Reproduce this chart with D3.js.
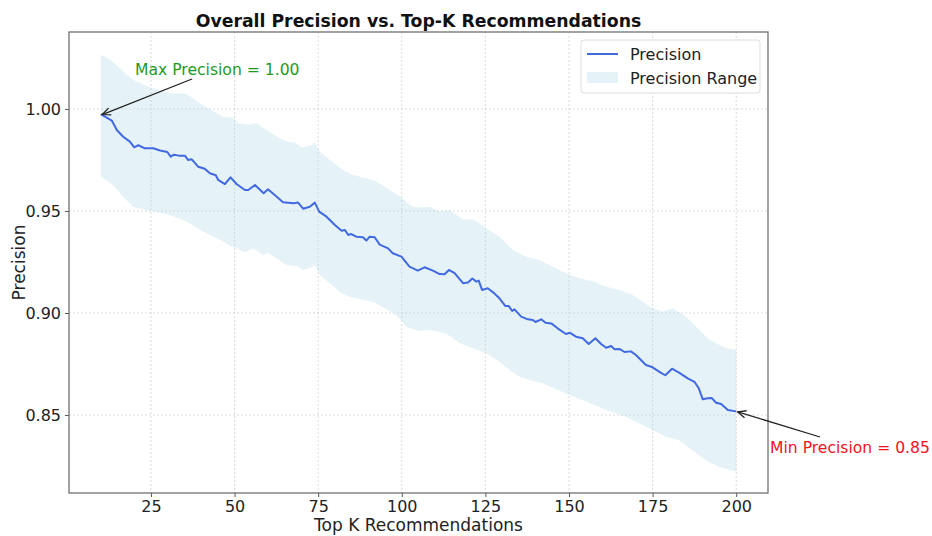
<!DOCTYPE html>
<html><head><meta charset="utf-8">
<script src="https://cdn.jsdelivr.net/npm/d3@7"></script>
<style>body{margin:0;background:#fff}svg{display:block}text{font-family:"DejaVu Sans",sans-serif}</style>
</head><body>
<svg id="c" width="932" height="536"></svg>
<script>
// ---- data ----
const lineK = [10,13.3,14.8,16.7,18.7,20.0,21.2,23.2,25.7,27.7,29.9,30.9,31.9,33.7,35.2,36.1,37.2,39.1,41.1,42.6,44.4,45.1,47.1,48.8,50.6,53.1,54.1,56.1,58.7,60.0,62.0,64.5,67.7,69.0,70.5,72.5,74.0,75.3,77.5,80.0,82.0,83.0,84.0,84.9,86.4,88.4,89.4,90.4,91.9,93.4,95.9,97.3,99.9,102.3,104.8,106.8,109.3,111.3,112.8,114.1,115.8,118.3,119.8,121.1,122.3,123.0,124.0,125.7,127.7,129.2,131.0,132.0,133.0,133.7,135.7,137.7,139.2,140.0,141.7,143.0,144.7,146.6,149.1,150.3,152.1,154.1,155.9,157.9,159.6,161.1,162.6,163.6,165.1,166.6,168.5,170.0,173.0,175.0,177.5,178.8,180.8,183.0,185.5,187.5,188.8,190.0,191.5,192.7,194.0,195.5,197.5,200];
const precision = [0.9975,0.9943,0.9897,0.9864,0.9840,0.9812,0.9822,0.9807,0.9807,0.9796,0.9789,0.9766,0.9776,0.9770,0.9770,0.9750,0.9753,0.9717,0.9707,0.9685,0.9675,0.9652,0.9632,0.9665,0.9632,0.9603,0.9603,0.9627,0.9587,0.9606,0.9578,0.9543,0.9538,0.9541,0.9511,0.9521,0.9541,0.9497,0.9472,0.9431,0.9403,0.9407,0.9382,0.9387,0.9374,0.9371,0.9355,0.9374,0.9371,0.9335,0.9317,0.9293,0.9276,0.9227,0.9208,0.9224,0.9208,0.9191,0.9190,0.9211,0.9195,0.9146,0.9149,0.9169,0.9154,0.9159,0.9113,0.9121,0.9096,0.9072,0.9034,0.9034,0.9010,0.9018,0.8982,0.8969,0.8966,0.8956,0.8969,0.8952,0.8949,0.8925,0.8897,0.8903,0.8884,0.8876,0.8848,0.8876,0.8848,0.8830,0.8838,0.8822,0.8824,0.8809,0.8812,0.8794,0.8745,0.8734,0.8707,0.8695,0.8727,0.8707,0.8680,0.8663,0.8631,0.8577,0.8582,0.8583,0.8560,0.8554,0.8525,0.8518];

const upperK = [10,13,16.7,19.7,24.2,26.7,30.7,35.7,39.6,43.6,46.6,49.6,51.1,54.6,56.6,59.5,63.5,65.5,68.0,70.0,72.5,74.0,75.5,78.5,82.4,85.4,89.4,92.4,96.4,99.4,103.4,106.3,108.3,111.3,114.3,118.3,121.3,123.3,125.2,129.2,133.2,137.2,141.2,145.1,149.1,153.1,157.1,161.1,165.1,169.1,174.1,178,181,185,189,192,197,200];
const upperVal = [1.0265,1.024,1.0183,1.0142,1.0109,1.0096,1.0077,1.0074,1.0028,0.9987,0.9962,0.9957,0.9930,0.9922,0.9930,0.9897,0.9856,0.9840,0.9835,0.9812,0.9819,0.9835,0.9791,0.9750,0.9701,0.9676,0.9660,0.9644,0.9603,0.9571,0.9518,0.9518,0.9521,0.9497,0.9503,0.9460,0.9458,0.9440,0.9415,0.9374,0.9309,0.9275,0.9260,0.9227,0.9195,0.9170,0.9156,0.9129,0.9113,0.9088,0.9031,0.9007,0.9023,0.8982,0.8917,0.8868,0.8827,0.8819];

const lowerK = [10,13.7,16.7,19.7,23.7,29.7,35.7,40.6,46.6,48.6,50.6,53.1,55.5,58.5,60.0,62.5,65.5,68.5,70.5,72.5,74.0,75.5,78.5,81.4,84.4,88.4,91.4,94.4,98.4,101.4,105.3,108.3,113.3,117.3,121.3,125.2,129.2,132.2,135.2,138.2,142.1,149.1,155.1,161.1,167,173,179,183,186.9,190.9,194.9,200];
const lowerVal = [0.9668,0.9627,0.9570,0.9521,0.9505,0.9485,0.9448,0.9399,0.9350,0.9328,0.9317,0.9296,0.9317,0.9284,0.9296,0.9268,0.9235,0.9230,0.9211,0.9219,0.9235,0.9186,0.9146,0.9104,0.9080,0.9064,0.9055,0.9028,0.8990,0.8933,0.8912,0.8917,0.8900,0.8852,0.8827,0.8803,0.8762,0.8721,0.8688,0.8672,0.8656,0.8606,0.8566,0.8525,0.8492,0.8443,0.8394,0.8377,0.8328,0.8279,0.8246,0.8222];

const xTicks = [25,50,75,100,125,150,175,200];
const yTicks = [0.85,0.90,0.95,1.00];
const maxPoint = {k:10, v:0.9975, label:"Max Precision = 1.00"};
const minPoint = {k:200, v:0.8518, label:"Min Precision = 0.85"};

// ---- layout ----
const svg = d3.select("#c");
const L=69, R=768, T=32, B=493;
const x = d3.scaleLinear().domain([0.5,209.5]).range([L,R]);
const y = d3.scaleLinear().domain([0.8118,1.0377]).range([B,T]);

const defs = svg.append("defs");
defs.append("clipPath").attr("id","clip").append("rect").attr("x",L).attr("y",T).attr("width",R-L).attr("height",B-T);

// grid
const g = svg.append("g");
g.selectAll(".gx").data(xTicks).join("line")
  .attr("x1",d=>x(d)).attr("x2",d=>x(d)).attr("y1",T).attr("y2",B)
  .attr("stroke","#d2d2d2").attr("stroke-width",0.8).attr("stroke-dasharray","2,2");
g.selectAll(".gy").data(yTicks).join("line")
  .attr("y1",d=>y(d)).attr("y2",d=>y(d)).attr("x1",L).attr("x2",R)
  .attr("stroke","#d2d2d2").attr("stroke-width",0.8).attr("stroke-dasharray","2,2");

// band polygon
const bandPts = upperK.map((k,i)=>[k,upperVal[i]]).concat(lowerK.map((k,i)=>[k,lowerVal[i]]).reverse());
svg.append("path").attr("clip-path","url(#clip)")
  .attr("d", d3.line().x(d=>x(d[0])).y(d=>y(d[1]))(bandPts)+"Z")
  .attr("fill","#add8e6").attr("fill-opacity",0.32).attr("stroke","none");

// line
svg.append("path").attr("clip-path","url(#clip)")
  .attr("d", d3.line().x((d,i)=>x(lineK[i])).y(d=>y(d))(precision))
  .attr("fill","none").attr("stroke","#4169e1").attr("stroke-width",2).attr("stroke-linejoin","round");

// axes
const xAxis = svg.append("g").attr("transform",`translate(0,${B})`)
  .call(d3.axisBottom(x).tickValues(xTicks).tickFormat(d3.format("d")).tickSize(4).tickPadding(4));
const yAxis = svg.append("g").attr("transform",`translate(${L},0)`)
  .call(d3.axisLeft(y).tickValues(yTicks).tickFormat(d3.format(".2f")).tickSize(4).tickPadding(4));
[xAxis,yAxis].forEach(a=>{
  a.select(".domain").remove();
  a.selectAll(".tick line").attr("stroke","#555").attr("stroke-width",1);
  a.selectAll(".tick text").attr("font-size",16).attr("fill","#222").attr("font-family","DejaVu Sans");
});
// spines
svg.append("rect").attr("x",L).attr("y",T).attr("width",R-L).attr("height",B-T)
  .attr("fill","none").attr("stroke","#707070").attr("stroke-width",1.3);

// labels
svg.append("text").attr("x",(L+R)/2).attr("y",27).attr("text-anchor","middle")
  .attr("font-size",17.3).attr("font-weight","bold").attr("fill","#111")
  .text("Overall Precision vs. Top-K Recommendations");
svg.append("text").attr("x",(L+R)/2).attr("y",531).attr("text-anchor","middle")
  .attr("font-size",17).attr("fill","#222").text("Top K Recommendations");
svg.append("text").attr("transform",`translate(25,${(T+B)/2}) rotate(-90)`).attr("text-anchor","middle")
  .attr("font-size",17).attr("fill","#222").text("Precision");

// arrows
function arrow(x1,y1,x2,y2){
  svg.append("line").attr("x1",x1).attr("y1",y1).attr("x2",x2).attr("y2",y2)
    .attr("stroke","#222").attr("stroke-width",1.3);
  const a=Math.atan2(y1-y2,x1-x2), h=9, w=0.42;
  const p1=[x2+h*Math.cos(a+w), y2+h*Math.sin(a+w)], p2=[x2+h*Math.cos(a-w), y2+h*Math.sin(a-w)];
  svg.append("path").attr("d",`M${p1[0]},${p1[1]}L${x2},${y2}L${p2[0]},${p2[1]}`)
    .attr("fill","none").attr("stroke","#222").attr("stroke-width",1.3);
}
arrow(192,79, x(maxPoint.k)+1.5, y(maxPoint.v)+0.5);
arrow(820,437, x(minPoint.k)+1.5, y(minPoint.v)+0.5);
svg.append("text").attr("x",135).attr("y",75).attr("font-size",15.6).attr("fill","#1f9a1f").text(maxPoint.label);
svg.append("text").attr("x",770).attr("y",453).attr("font-size",15.6).attr("fill","#f0141e").text(minPoint.label);

// legend
const lg = svg.append("g");
lg.append("rect").attr("x",581).attr("y",40).attr("width",179).attr("height",53).attr("rx",3)
  .attr("fill","#fff").attr("fill-opacity",0.85).attr("stroke","#ddd");
lg.append("line").attr("x1",587).attr("x2",618).attr("y1",54).attr("y2",54).attr("stroke","#4169e1").attr("stroke-width",2);
lg.append("text").attr("x",630).attr("y",59.5).attr("font-size",16).attr("fill","#222").text("Precision");
lg.append("rect").attr("x",587).attr("y",72).attr("width",31).attr("height",11).attr("fill","#add8e6").attr("fill-opacity",0.32);
lg.append("text").attr("x",630).attr("y",83.5).attr("font-size",16).attr("fill","#222").text("Precision Range");
</script>
</body></html>
